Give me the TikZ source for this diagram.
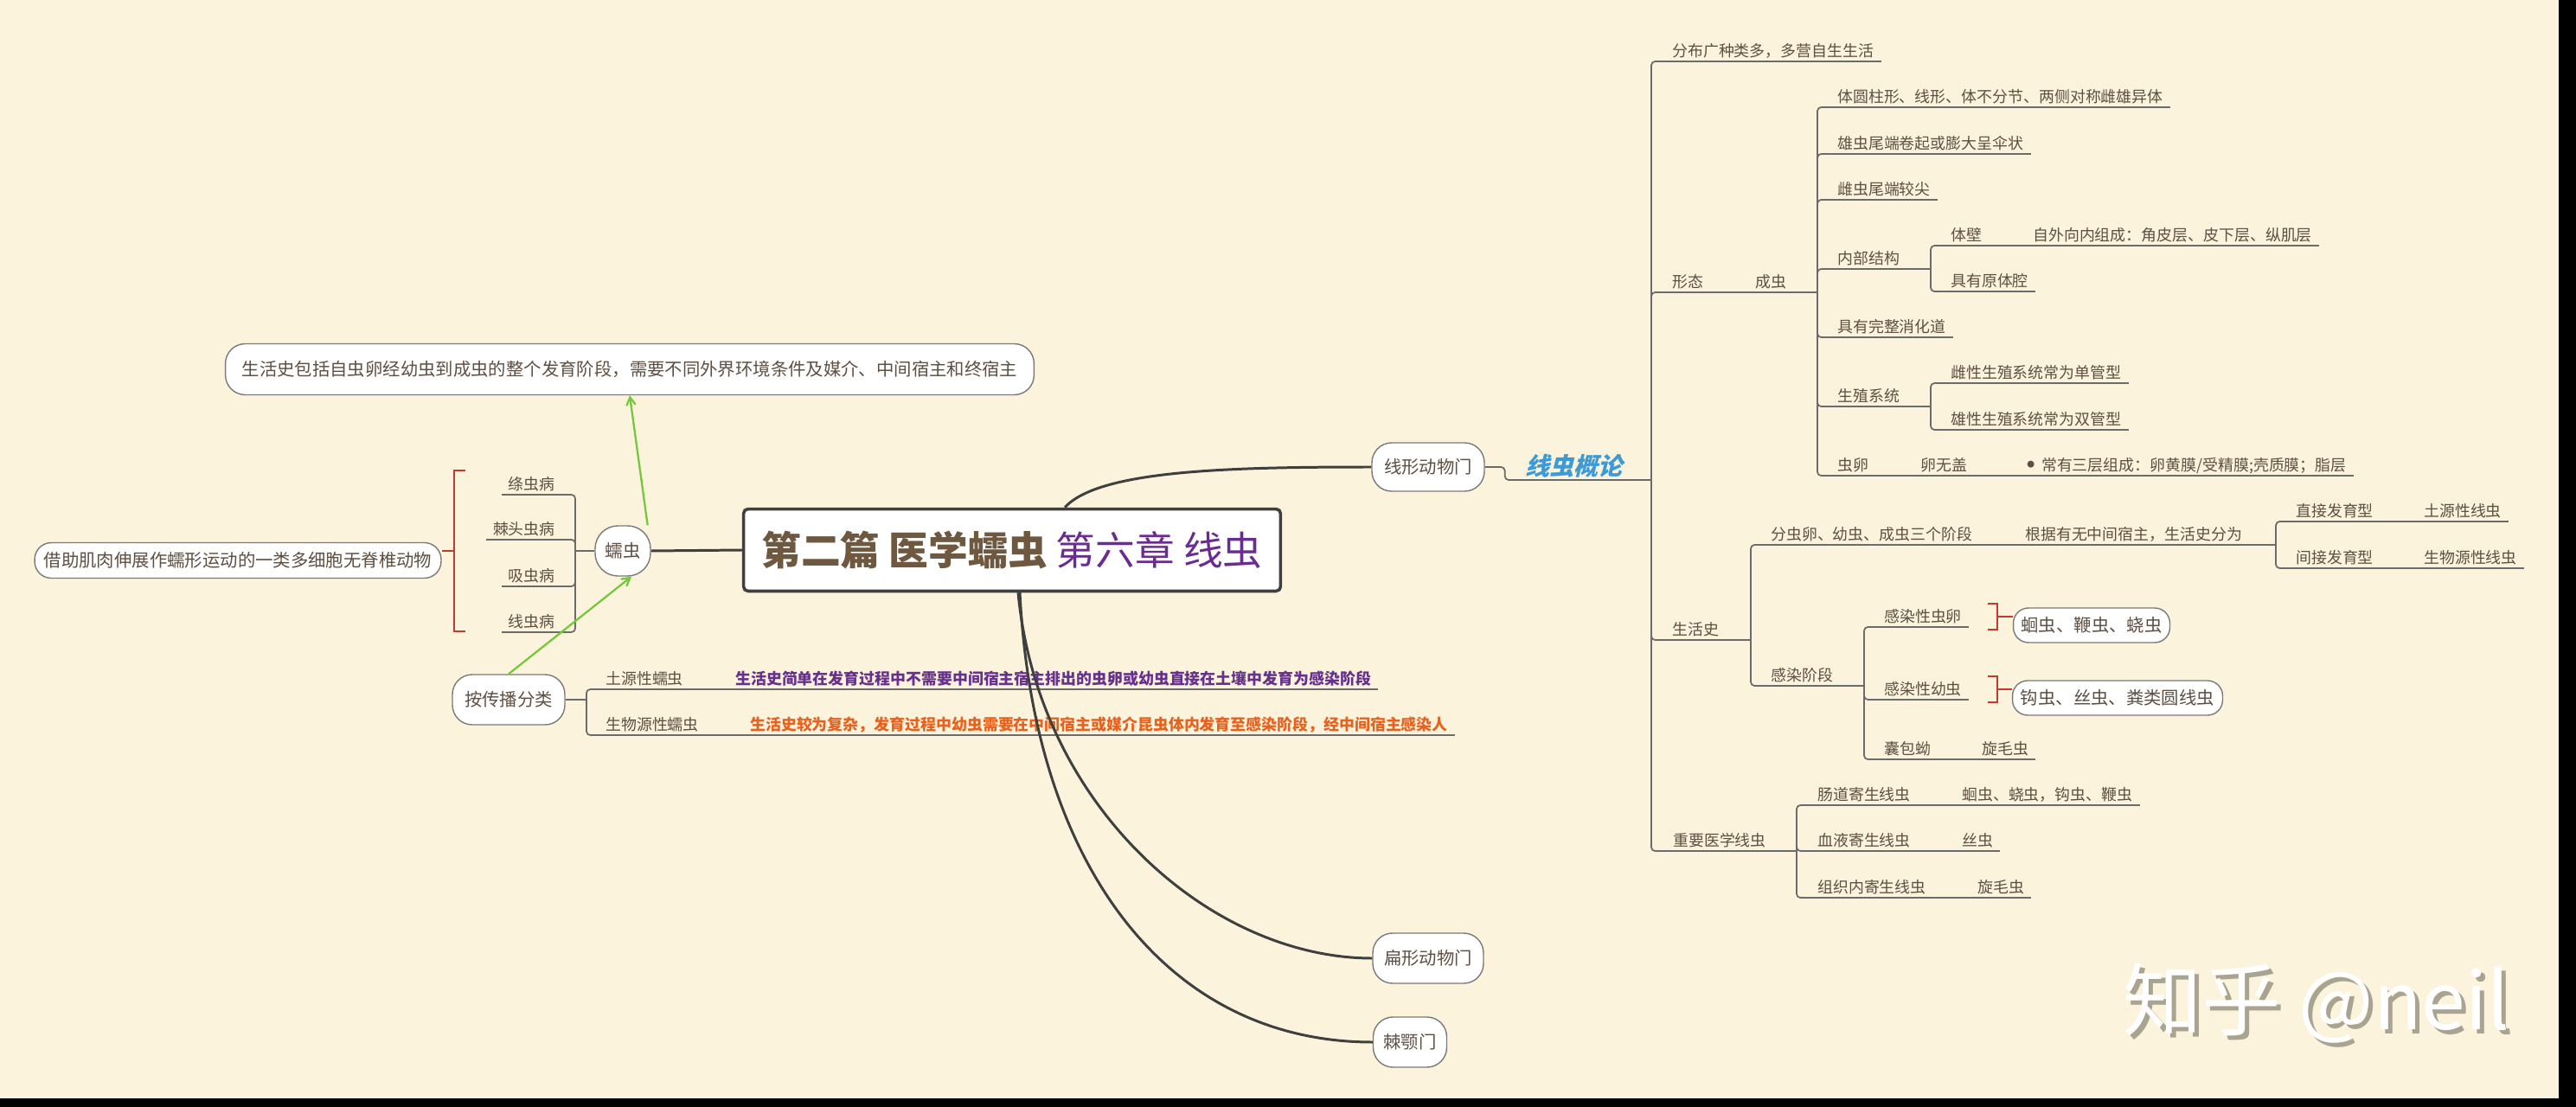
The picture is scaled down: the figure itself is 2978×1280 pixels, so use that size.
\documentclass[tikz,border=0pt]{standalone}
\usepackage{fontspec}
\setmainfont{Noto Sans CJK SC}
\newfontfamily\slantcjk[FakeSlant=0.25]{Noto Sans CJK SC}
\usetikzlibrary{arrows}

\definecolor{paper}{HTML}{FBF3DC}
\definecolor{ink}{HTML}{5E4F42}
\definecolor{twiggrey}{HTML}{6B6B6B}
\definecolor{trunkgrey}{HTML}{3E4040}
\definecolor{rim}{HTML}{7A7A7A}
\definecolor{titlebrown}{HTML}{6E583F}
\definecolor{chapviolet}{HTML}{6A2C91}
\definecolor{skyblue}{HTML}{3C9AD6}
\definecolor{leafgreen}{HTML}{74C83C}
\definecolor{bracketred}{HTML}{C23B2E}
\definecolor{soilpurple}{HTML}{66308C}
\definecolor{hostorange}{HTML}{E8621E}
\definecolor{shade}{HTML}{A9A392}

\begin{document}
\begin{tikzpicture}[x=0.02cm, y=-0.02cm,
    topic/.style={font=\fontsize{10.2}{12}\selectfont, text=ink, anchor=south west,
      inner xsep=4.5pt, inner ysep=3pt, text depth=0pt},
    ltopic/.style={topic, anchor=south east},
    pill/.style={draw=rim, fill=white, line width=0.8pt, inner sep=0pt,
      rounded corners=#1, font=\fontsize{11.6}{14}\selectfont, text=ink},
    pill/.default=13pt,
    twig/.style={draw=twiggrey, line width=1pt, rounded corners=2.5pt},
    trunk/.style={draw=trunkgrey, line width=1.7pt},
    hint/.style={draw=leafgreen, line width=1.3pt, ->, >=angle 60},
    summary/.style={draw=bracketred, line width=0.9pt}]

% paper and frame
\fill[paper] (0,0) rectangle (2978,1280);
\fill[black] (2958,0) rectangle (2978,1280);
\fill[black] (0,1270) rectangle (2978,1280);

% centre topic
\node[draw=trunkgrey, line width=2pt, fill=white, rounded corners=3pt,
  minimum width=12.42cm, minimum height=1.9cm, inner sep=0pt,
  font=\fontsize{26}{30}\selectfont] (title) at (1170,636)
  {\textcolor{titlebrown}{\bfseries 第二篇 医学蠕虫} \textcolor{chapviolet}{第六章 线虫}};

% main branches
\node[pill, minimum width=2.6cm, minimum height=1.12cm] (nemaPhylum) at (1651,540) {线形动物门};
\node[pill, minimum width=2.56cm, minimum height=1.16cm] (flat) at (1651,1108) {扁形动物门};
\node[pill, minimum width=1.7cm, minimum height=1.16cm] (acanth) at (1630,1205) {棘颚门};
\node[pill=15pt, minimum width=1.28cm, minimum height=1.16cm] (worm) at (720,637) {蠕虫};

% left side
\node[pill, minimum width=18.7cm, minimum height=1.18cm] (lifeNote) at (728,427)
  {生活史包括自虫卵经幼虫到成虫的整个发育阶段，需要不同外界环境条件及媒介、中间宿主和终宿主};
\node[pill=11pt, minimum width=9.4cm, minimum height=0.82cm] (wormDef) at (275,648)
  {借助肌肉伸展作蠕形运动的一类多细胞无脊椎动物};
\node[pill, minimum width=2.6cm, minimum height=1.16cm] (spread) at (588,809) {按传播分类};

\node[ltopic] (tape) at (650,572) {绦虫病};
\node[ltopic] (thorny) at (650,624) {棘头虫病};
\node[ltopic] (fluke) at (650,678) {吸虫病};
\node[ltopic] (nemaDis) at (650,731) {线虫病};

\node[topic] (soilWorm) at (692,797) {土源性蠕虫};
\node[topic, text=soilpurple, font=\fontsize{10.2}{12}\selectfont\bfseries] (soilNote) at (842,797)
  {生活史简单在发育过程中不需要中间宿主宿主排出的虫卵或幼虫直接在土壤中发育为感染阶段};
\node[topic] (bioWorm) at (692,850) {生物源性蠕虫};
\node[topic, text=hostorange, font=\fontsize{10.2}{12}\selectfont\bfseries] (bioNote) at (859,850)
  {生活史较为复杂，发育过程中幼虫需要在中间宿主或媒介昆虫体内发育至感染阶段，经中间宿主感染人};

% right side
\node[topic, text=skyblue, font=\slantcjk\bfseries\fontsize{16}{19}\selectfont] (nemaIntro) at (1755,555) {线虫概论};

\node[topic] (distrib) at (1925,71) {分布广种类多，多营自生生活};
\node[topic] (morph) at (1925,338) {形态};
\node[topic] (adult) at (2021,338) {成虫};
\node[topic] (lifeHist) at (1925,740) {生活史};
\node[topic] (major) at (1926,984) {重要医学线虫};

\node[topic] (body1) at (2116,124) {体圆柱形、线形、体不分节、两侧对称雌雄异体};
\node[topic] (tail1) at (2116,178) {雄虫尾端卷起或膨大呈伞状};
\node[topic] (tail2) at (2116,231) {雌虫尾端较尖};
\node[topic] (inner) at (2116,311) {内部结构};
\node[topic] (wall) at (2247,284) {体壁};
\node[topic] (wallLayers) at (2342,284) {自外向内组成：角皮层、皮下层、纵肌层};
\node[topic] (cavity) at (2247,337) {具有原体腔};
\node[topic] (gut) at (2116,390) {具有完整消化道};
\node[topic] (repro) at (2116,470) {生殖系统};
\node[topic] (female) at (2247,443) {雌性生殖系统常为单管型};
\node[topic] (male) at (2247,497) {雄性生殖系统常为双管型};
\node[topic] (egg) at (2116,550) {虫卵};
\node[topic] (eggLid) at (2212,550) {卵无盖};
\node[topic] (eggShell) at (2335,550)
  {\raisebox{0.2em}{\fontsize{5}{5}\selectfont ●}\hspace{0.45em}常有三层组成：卵黄膜/受精膜;壳质膜；脂层};

\node[topic] (stages) at (2039,630) {分虫卵、幼虫、成虫三个阶段};
\node[topic] (hostRule) at (2333,630) {根据有无中间宿主，生活史分为};
\node[topic] (direct) at (2646,603) {直接发育型};
\node[topic] (soilNema) at (2794,603) {土源性线虫};
\node[topic] (indirect) at (2646,657) {间接发育型};
\node[topic] (bioNema) at (2794,657) {生物源性线虫};
\node[topic] (infect) at (2039,793) {感染阶段};
\node[topic] (infEgg) at (2170,725) {感染性虫卵};
\node[topic] (infLarva) at (2170,809) {感染性幼虫};
\node[topic] (cyst) at (2170,878) {囊包蚴};
\node[topic] (trich1) at (2283,878) {旋毛虫};
\node[pill=10pt, minimum width=3.62cm, minimum height=0.8cm] (eggPill) at (2418,723) {蛔虫、鞭虫、蛲虫};
\node[pill=10pt, minimum width=4.86cm, minimum height=0.8cm] (larvaPill) at (2448,807) {钩虫、丝虫、粪类圆线虫};

\node[topic] (intest) at (2093,931) {肠道寄生线虫};
\node[topic] (intestList) at (2260,931) {蛔虫、蛲虫，钩虫、鞭虫};
\node[topic] (blood) at (2093,984) {血液寄生线虫};
\node[topic] (bloodList) at (2260,984) {丝虫};
\node[topic] (tissue) at (2093,1038) {组织内寄生线虫};
\node[topic] (tissueList) at (2278,1038) {旋毛虫};

% junctions
\coordinate (introJ) at (1909,555);
\coordinate (adultJ) at (2101,338);
\coordinate (innerJ) at (2232,311);
\coordinate (reproJ) at (2232,470);
\coordinate (lifeJ) at (2024,740);
\coordinate (hostJ) at (2631,630);
\coordinate (infectJ) at (2155,793);
\coordinate (majorJ) at (2077,984);
\coordinate (wormJ) at (665,637);
\coordinate (spreadJ) at (678,809);

% underlines
\foreach \n in {nemaIntro, distrib, morph, adult, lifeHist, major, body1, tail1, tail2,
    inner, wall, wallLayers, cavity, gut, repro, female, male, egg, eggLid, eggShell,
    stages, hostRule, direct, soilNema, indirect, bioNema, infect, infEgg, infLarva,
    cyst, trich1, intest, intestList, blood, bloodList, tissue, tissueList,
    tape, thorny, fluke, nemaDis, soilWorm, soilNote, bioWorm, bioNote}
  \draw[twig] (\n.south west) -- (\n.south east);

% trunks from the centre
\draw[trunk] (worm.east) -- (title.west);
\draw[trunk] ([xshift=1.22cm]title.north) .. controls +(39,-43) and +(-166,0) .. (nemaPhylum.west);
\draw[trunk] ([xshift=0.14cm]title.south) .. controls +(23,247) and +(-187,0) .. (flat.west);
\draw[trunk] ([xshift=0.18cm]title.south) .. controls +(16,317) and +(-237,0) .. (acanth.west);

% right tree
\draw[twig] (nemaPhylum.east) -- ++(23,0) |- (nemaIntro.south west);
\draw[twig] (nemaIntro.south east) -- (introJ);
\foreach \n in {distrib, morph, lifeHist, major}
  \draw[twig] (introJ) |- (\n.south west);
\draw[twig] (morph.south east) -- (adult.south west);
\draw[twig] (adult.south east) -- (adultJ);
\foreach \n in {body1, tail1, tail2, inner, gut, repro, egg}
  \draw[twig] (adultJ) |- (\n.south west);
\draw[twig] (inner.south east) -- (innerJ);
\foreach \n in {wall, cavity}
  \draw[twig] (innerJ) |- (\n.south west);
\draw[twig] (wall.south east) -- (wallLayers.south west);
\draw[twig] (repro.south east) -- (reproJ);
\foreach \n in {female, male}
  \draw[twig] (reproJ) |- (\n.south west);
\draw[twig] (egg.south east) -- (eggLid.south west);
\draw[twig] (eggLid.south east) -- (eggShell.south west);

\draw[twig] (lifeHist.south east) -- (lifeJ);
\foreach \n in {stages, infect}
  \draw[twig] (lifeJ) |- (\n.south west);
\draw[twig] (stages.south east) -- (hostRule.south west);
\draw[twig] (hostRule.south east) -- (hostJ);
\foreach \n in {direct, indirect}
  \draw[twig] (hostJ) |- (\n.south west);
\draw[twig] (direct.south east) -- (soilNema.south west);
\draw[twig] (indirect.south east) -- (bioNema.south west);
\draw[twig] (infect.south east) -- (infectJ);
\foreach \n in {infEgg, infLarva, cyst}
  \draw[twig] (infectJ) |- (\n.south west);
\draw[twig] (cyst.south east) -- (trich1.south west);

\draw[twig] (major.south east) -- (majorJ);
\foreach \n in {intest, blood, tissue}
  \draw[twig] (majorJ) |- (\n.south west);
\draw[twig] (intest.south east) -- (intestList.south west);
\draw[twig] (blood.south east) -- (bloodList.south west);
\draw[twig] (tissue.south east) -- (tissueList.south west);

% summaries
\coordinate (eggB) at (2309,713);
\coordinate (larvaB) at (2309,797);
\draw[summary] (eggB) ++(-11,-15) -- ++(11,0) -- ++(0,30) -- ++(-11,0);
\draw[summary] (eggB) -- (eggB -| eggPill.west);
\draw[summary] (larvaB) ++(-11,-15) -- ++(11,0) -- ++(0,30) -- ++(-11,0);
\draw[summary] (larvaB) -- (larvaB -| larvaPill.west);

% left tree
\draw[twig] (worm.west) -- (wormJ);
\foreach \n in {tape, thorny, fluke, nemaDis}
  \draw[twig] (wormJ) |- (\n.south east);
\coordinate (defB) at (525,637);
\draw[summary] (defB) ++(13,-93) -- ++(-13,0) -- ++(0,186) -- ++(13,0);
\draw[summary] (defB) -- (defB -| wormDef.east);

\draw[twig] (spread.east) -- (spreadJ);
\foreach \n in {soilWorm, bioWorm}
  \draw[twig] (spreadJ) |- (\n.south west);
\draw[twig] (soilWorm.south east) -- (soilNote.south west);
\draw[twig] (bioWorm.south east) -- (bioNote.south west);

% relations
\draw[hint] ([xshift=-0.08cm]worm.north east) -- (lifeNote.south);
\draw[hint] (spread.north) -- ([xshift=0.2cm]worm.south);

% watermark
\node[font=\fontsize{52}{60}\selectfont, text=shade] (markShadow) at (2683,1165) {知乎 @neil};
\node[font=\fontsize{52}{60}\selectfont, text=white] (mark) at (2678,1160) {知乎 @neil};
\end{tikzpicture}
\end{document}
